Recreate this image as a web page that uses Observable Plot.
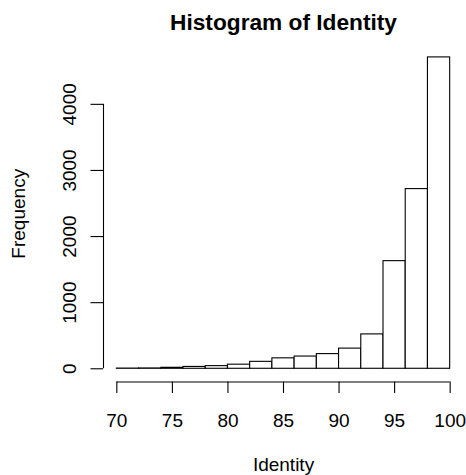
<!DOCTYPE html>
<html>
<head>
<meta charset="utf-8">
<script src="https://cdn.jsdelivr.net/npm/d3@7"></script>
<script src="https://cdn.jsdelivr.net/npm/@observablehq/plot@0.6"></script>
<style>
  html, body { margin: 0; padding: 0; background: #fff; }
  svg { display: block; }
</style>
</head>
<body>
<div id="chart"></div>
<script>
// Bin lower edges (width 2) and counts
const binStart = [70, 72, 74, 76, 78, 80, 82, 84, 86, 88, 90, 92, 94, 96, 98];
const binWidth = 2;
const counts   = [3, 5, 15, 28, 40, 62, 105, 158, 185, 222, 305, 520, 1628, 2718, 4710];

const xTicks = [70, 75, 80, 85, 90, 95, 100];
const yTicks = [0, 1000, 2000, 3000, 4000];

const titleText = "Histogram of Identity";
const xLabel = "Identity";
const yLabel = "Frequency";

const bins = binStart.map((s, i) => ({x1: s, x2: s + binWidth, count: counts[i]}));

const font = "'Liberation Sans', Arial, Helvetica, sans-serif";

const chart = Plot.plot({
  width: 466,
  height: 475,
  marginLeft: 103,
  marginRight: 3,
  marginTop: 45,
  marginBottom: 93.5,
  style: {fontFamily: font, background: "#fff"},
  x: {domain: [68.8, 101.2]},
  y: {domain: [-200, 4890]},
  marks: [
    Plot.rectY(bins, {x1: "x1", x2: "x2", y: "count", fill: "white", stroke: "black", strokeWidth: 1.1}),
    // x axis
    Plot.ruleY([-200], {x1: xTicks[0], x2: xTicks[xTicks.length - 1], stroke: "black", strokeWidth: 1.1}),
    Plot.axisX({ticks: xTicks, tickSize: 11.5, tickPadding: 19.5, fontSize: 19, label: null, tickFormat: d => String(d), stroke: "black", strokeWidth: 1.1, color: "black"}),
    // y axis
    Plot.ruleX([68.8], {y1: yTicks[0], y2: yTicks[yTicks.length - 1], stroke: "black", strokeWidth: 1.1}),
    Plot.axisY({ticks: yTicks, tickSize: 12.5, tickFormat: () => "", label: null, stroke: "black", strokeWidth: 1.1}),
    Plot.text(yTicks, {x: 68.8, y: d => d, text: d => String(d), dx: -28, rotate: -90, textAnchor: "middle", lineAnchor: "bottom", fontSize: 19, fill: "black"}),
    // title and axis labels
    Plot.text([titleText], {frameAnchor: "top", text: d => d, dy: -15.7, textAnchor: "middle", lineAnchor: "bottom", fontSize: 22.7, fontWeight: "bold", fill: "black"}),
    Plot.text([xLabel], {frameAnchor: "bottom", text: d => d, dy: 88.5, textAnchor: "middle", lineAnchor: "bottom", fontSize: 19, fill: "black"}),
    Plot.text([yLabel], {frameAnchor: "left", text: d => d, dx: -79, rotate: -90, textAnchor: "middle", lineAnchor: "bottom", fontSize: 19, fill: "black"})
  ]
});
document.getElementById("chart").appendChild(chart);
</script>
</body>
</html>
